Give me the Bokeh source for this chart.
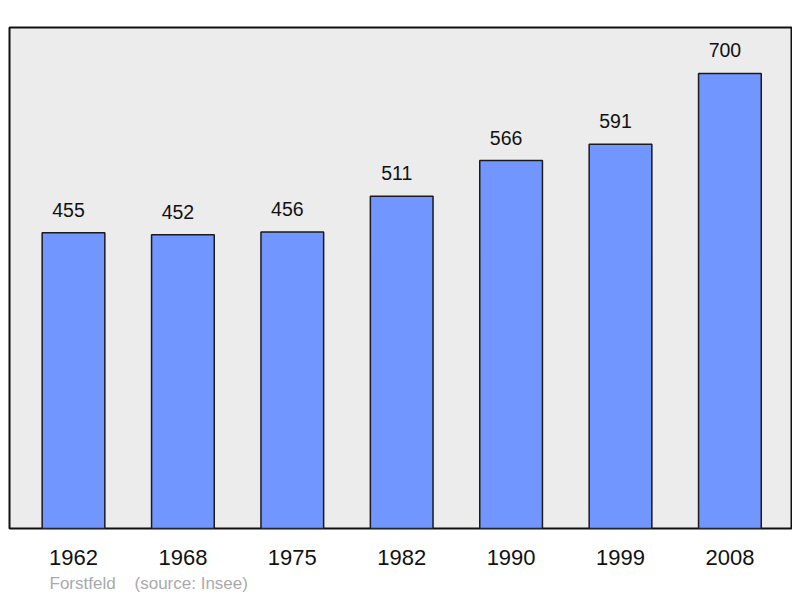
from bokeh.plotting import figure
from bokeh.models import Range1d, FixedTicker, Title
from bokeh.core.properties import value
from bokeh.embed import file_html
from bokeh.resources import INLINE

years = ["1962", "1968", "1975", "1982", "1990", "1999", "2008"]
population = [455, 452, 456, 511, 566, 591, 700]
town = "Forstfeld"
source = "(source: Insee)"

xs = list(range(len(years)))

p = figure(width=792, height=596, output_backend="svg", toolbar_location=None,
           x_range=Range1d(-0.585, 6.563), y_range=Range1d(0, 770.7),
           min_border_left=9, min_border_right=1, min_border_top=27, min_border_bottom=68)
p.background_fill_color = "#ececec"
p.border_fill_color = "white"
p.outline_line_color = "#111111"
p.outline_line_width = 2
p.xgrid.visible = False
p.ygrid.visible = False
p.yaxis.visible = False

p.vbar(x=xs, top=population, width=0.573, bottom=0,
       fill_color="#7196ff", line_color="#1a1a1a", line_width=1.5)

p.text(x=xs, y=population, text=[str(v) for v in population],
       text_align="center", text_baseline="middle", x_offset=-5, y_offset=-23,
       text_font=value("Liberation Sans"), text_font_size="19.5px", text_color="#111111")

ax = p.xaxis[0]
ax.ticker = FixedTicker(ticks=xs)
ax.major_label_overrides = {i: y for i, y in enumerate(years)}
ax.axis_line_color = None
ax.major_tick_line_color = None
ax.minor_tick_line_color = None
ax.major_label_standoff = 15
ax.major_label_text_font = "Liberation Sans"
ax.major_label_text_font_size = "22px"
ax.major_label_text_color = "#111111"

p.add_layout(Title(text=town + "\u00a0\u00a0\u00a0\u00a0" + source, align="left", offset=40,
                   text_font="Liberation Sans", text_font_size="17px",
                   text_font_style="normal", text_color="#aaaaaa", standoff=8), "below")

open("out.html", "w").write(file_html(p, INLINE))
